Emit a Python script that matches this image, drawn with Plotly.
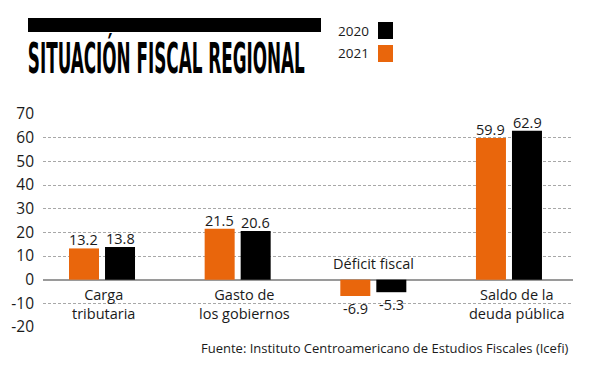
import plotly.graph_objects as go

categories = ["Carga tributaria", "Gasto de los gobiernos", "Déficit fiscal", "Saldo de la deuda pública"]
category_labels = ["Carga<br>tributaria", "Gasto de<br>los gobiernos", "Déficit fiscal", "Saldo de la<br>deuda pública"]
values_2021 = [13.2, 21.5, -6.9, 59.9]
values_2020 = [13.8, 20.6, -5.3, 62.9]
tick_values = [-20, -10, 0, 10, 20, 30, 40, 50, 60, 70]
tick_labels = ["-20", "-10", "0", "10", "20", "30", "40", "50", "60", "70"]
title_text = "SITUACIÓN FISCAL REGIONAL"
source_text = "Fuente: Instituto Centroamericano de Estudios Fiscales (Icefi)"

ORANGE = "#E9660C"
BLACK = "#000000"
TEXT = "#1a1a1a"
FONT = "'Open Sans', Lato, sans-serif"

W, H = 590, 368
ML, MR, MT, MB = 43, 17, 114, 41
PW, PH = W - ML - MR, H - MT - MB


def px(x):
    return (x - ML) / PW


def py(y):
    return (H - MB - y) / PH


fig = go.Figure()
fig.add_trace(go.Bar(x=categories, y=values_2021, name="2021", marker=dict(color=ORANGE, line=dict(width=0))))
fig.add_trace(go.Bar(x=categories, y=values_2020, name="2020", marker=dict(color=BLACK, line=dict(width=0))))

annotations = []
# value labels
for series, off in ((values_2021, -0.133), (values_2020, 0.133)):
    for i, v in enumerate(series):
        annotations.append(dict(
            x=i + off, y=v, xref="x", yref="y", text=f"{v:.1f}", showarrow=False,
            xanchor="center", yanchor="bottom" if v >= 0 else "top",
            yshift=-3 if v >= 0 else -1,
            font=dict(family=FONT, size=14.5, color=TEXT)))

# category labels
xshifts = [1, 7, 0, 8]
for i, lab in enumerate(category_labels):
    neg = values_2021[i] < 0
    annotations.append(dict(
        x=i, y=0, xref="x", yref="y", text=lab, showarrow=False,
        xanchor="center", yanchor="bottom" if neg else "top",
        yshift=5 if neg else -3, xshift=xshifts[i],
        font=dict(family=FONT, size=14.5, color=TEXT)))

# title
annotations.append(dict(
    x=px(166.5), y=py(58), xref="paper", yref="paper", text=title_text, showarrow=False,
    xanchor="center", yanchor="middle",
    font=dict(family="'Liberation Sans Narrow', 'DejaVu Sans Condensed', 'Liberation Sans', sans-serif",
              size=42, color="#000000", weight="bold")))

# legend texts
annotations.append(dict(x=px(371), y=py(31), xref="paper", yref="paper", text="2020", showarrow=False,
                        xanchor="right", yanchor="middle", font=dict(family=FONT, size=13.5, color=TEXT)))
annotations.append(dict(x=px(371), y=py(53), xref="paper", yref="paper", text="2021", showarrow=False,
                        xanchor="right", yanchor="middle", font=dict(family=FONT, size=13.5, color=TEXT)))

# source
annotations.append(dict(x=px(571), y=py(348), xref="paper", yref="paper", text=source_text, showarrow=False,
                        xanchor="right", yanchor="middle", font=dict(family=FONT, size=13, color=TEXT)))

shapes = [
    dict(type="rect", xref="paper", yref="paper", x0=px(28), x1=px(321), y0=py(32), y1=py(18),
         fillcolor="#000000", line=dict(width=0)),
    dict(type="rect", xref="paper", yref="paper", x0=px(378), x1=px(393), y0=py(39), y1=py(22),
         fillcolor=BLACK, line=dict(width=0)),
    dict(type="rect", xref="paper", yref="paper", x0=px(378), x1=px(393), y0=py(62), y1=py(45),
         fillcolor=ORANGE, line=dict(width=0)),
]

fig.update_layout(
    width=W, height=H,
    margin=dict(l=ML, r=MR, t=MT, b=MB, pad=0),
    paper_bgcolor="white", plot_bgcolor="white",
    barmode="group", bargap=0.469, bargroupgap=0.167,
    showlegend=False,
    annotations=annotations, shapes=shapes,
    xaxis=dict(range=[-0.435, 3.472], showticklabels=False, showgrid=False, zeroline=False,
               showline=False, ticks=""),
    yaxis=dict(range=[-20, 70], tickvals=tick_values, ticktext=tick_labels,
               showgrid=True, gridcolor="#a8a8a8", gridwidth=1, griddash="3px,2px",
               zeroline=True, zerolinecolor="#9a9a9a", zerolinewidth=1.5,
               showline=False, ticks="", ticklabelstandoff=8,
               tickfont=dict(family=FONT, size=15.5, color=TEXT)),
)

post = """
document.body.style.margin = '0';
document.body.style.padding = '0';
var gd = document.getElementById('{plot_id}');
function fixTitle(){
  gd.querySelectorAll('text.annotation-text').forEach(function(t){
    if (t.textContent.indexOf('SITUACI') === 0) {
      t.setAttribute('textLength', '277');
      t.setAttribute('lengthAdjust', 'spacingAndGlyphs');
      try {
        var bb = t.getBBox();
        var rects = t.parentNode.querySelectorAll('rect');
        rects.forEach(function(r){
          r.setAttribute('x', bb.x - 1);
          r.setAttribute('width', bb.width + 2);
        });
      } catch (e) {}
    }
  });
}
fixTitle();
if (gd.on) { gd.on('plotly_afterplot', fixTitle); }
"""

fig.write_html("out.html", post_script=post, config={"displayModeBar": False})
